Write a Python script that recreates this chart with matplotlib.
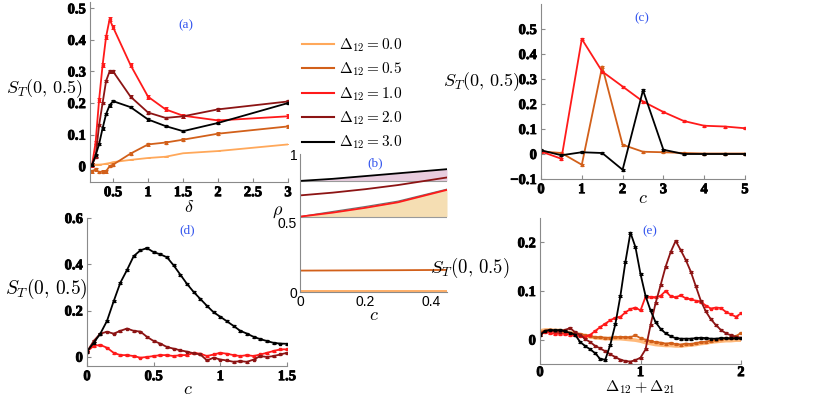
"""Five-panel S_T(0, 0.5) figure, redrawn from the reference picture."""

import matplotlib

matplotlib.use("Agg")
import matplotlib.patheffects as pe
import matplotlib.pyplot as plt
from matplotlib.lines import Line2D

plt.rcParams["mathtext.fontset"] = "cm"
plt.rcParams["font.family"] = ["Liberation Serif", "DejaVu Serif"]
# 刻度数字是粗体 Times 风格，其余文字单独指定 normal
plt.rcParams["font.weight"] = "bold"
plt.rcParams["font.size"] = 10.5

W, H = 817, 397

# colours of the five Delta_12 values
C_00 = "#FFA85A"
C_05 = "#D2601A"
C_10 = "#FF1A1A"
C_20 = "#8C1414"
C_30 = "#000000"
LEGEND_LABELS = [r"$\Delta_{12} = 0.0$", r"$\Delta_{12} = 0.5$", r"$\Delta_{12} = 1.0$",
                 r"$\Delta_{12} = 2.0$", r"$\Delta_{12} = 3.0$"]

# (a) S_T versus delta
a_delta = [0.2, 0.25, 0.3, 0.35, 0.4, 0.45, 0.5, 0.75, 1.0, 1.25, 1.5, 2.0, 3.0]
a_d00 = [0.005, 0.005, 0.005, 0.006, 0.008, 0.01, 0.013, 0.02, 0.026, 0.03, 0.041, 0.048, 0.069]
a_d05 = [-0.016, -0.01, -0.019, -0.017, -0.016, 0.0, 0.005, 0.04, 0.069, 0.075, 0.084, 0.103, 0.126]
a_d10 = [0.005, 0.075, 0.21, 0.32, 0.41, 0.465, 0.44, 0.32, 0.22, 0.18, 0.16, 0.145, 0.158]
a_d20 = [0.005, 0.03, 0.13, 0.2, 0.27, 0.3, 0.3, 0.22, 0.17, 0.153, 0.158, 0.18, 0.205]
a_d30 = [0.005, 0.034, 0.07, 0.12, 0.165, 0.193, 0.206, 0.187, 0.148, 0.127, 0.111, 0.137, 0.2]
a_xticks = [0.5, 1, 1.5, 2, 2.5, 3]
a_xticklabels = ["0.5", "1", "1.5", "2", "2.5", "3"]
a_yticks = [0, 0.1, 0.2, 0.3, 0.4, 0.5]
a_yticklabels = ["0", "0.1", "0.2", "0.3", "0.4", "0.5"]

# (b) rho versus c
b_c = [0.0, 0.1, 0.2, 0.3, 0.45]
b_d00 = [0.005, 0.005, 0.005, 0.005, 0.005]
b_d05 = [0.155, 0.156, 0.157, 0.158, 0.16]
b_d10 = [0.546, 0.575, 0.61, 0.65, 0.74]
b_d20 = [0.70, 0.72, 0.745, 0.775, 0.83]
b_d30 = [0.805, 0.82, 0.84, 0.86, 0.89]
b_bound = [0.546, 0.583, 0.619, 0.658, 0.745]
b_xticks = [0, 0.2, 0.4]
b_xticklabels = ["0", "0.2", "0.4"]
b_yticks = [0, 0.5, 1]
b_yticklabels = ["0", "0.5", "1"]

# (c) S_T versus c, coarse grid
c_c = [0, 0.5, 1, 1.5, 2, 2.5, 3, 3.5, 4, 4.5, 5]
c_d05 = [0.01, 0.004, -0.043, 0.35, 0.037, 0.009, 0.007, 0.004, 0.002, 0.002, 0.002]
c_d10 = [0.01, -0.019, 0.46, 0.33, 0.27, 0.21, 0.168, 0.132, 0.113, 0.11, 0.103]
c_d30 = [0.015, -0.005, 0.007, 0.004, -0.063, 0.255, 0.017, 0.0, 0.0, 0.0, 0.0]
c_yticks = [-0.1, 0, 0.1, 0.2, 0.3, 0.4, 0.5]
c_yticklabels = ["\u22120.1", "0", "0.1", "0.2", "0.3", "0.4", "0.5"]
c_xticks = [0, 1, 2, 3, 4, 5]
c_xticklabels = ["0", "1", "2", "3", "4", "5"]

# (d) S_T versus c, fine grid
d_c = [0, 0.05, 0.1, 0.15, 0.2, 0.25, 0.3, 0.35, 0.4, 0.45, 0.5, 0.55, 0.6, 0.65, 0.7, 0.75,
       0.8, 0.85, 0.9, 0.95, 1.0, 1.05, 1.1, 1.15, 1.2, 1.25, 1.3, 1.35, 1.4, 1.45, 1.5]
d_d10 = [0.022, 0.047, 0.051, 0.039, 0.017, 0.007, 0.007, 0.003, -0.004, -0.001, 0.003, 0.007,
         0.007, 0.003, 0.007, 0.007, 0.017, 0.013, 0.003, 0.01, 0.017, 0.013, 0.007, 0.003,
         0.007, 0.003, 0.01, 0.017, 0.025, 0.032, 0.032]
d_d20 = [0.022, 0.068, 0.1, 0.108, 0.1, 0.112, 0.122, 0.112, 0.109, 0.086, 0.068, 0.057,
         0.042, 0.035, 0.028, 0.022, 0.015, 0.01, -0.016, -0.004, -0.012, -0.016, -0.022,
         -0.019, -0.022, -0.012, 0.003, -0.001, 0.003, 0.01, 0.017]
d_d30 = [0.022, 0.06, 0.1, 0.155, 0.24, 0.32, 0.375, 0.435, 0.46, 0.47, 0.452, 0.443, 0.43,
         0.395, 0.355, 0.315, 0.28, 0.25, 0.22, 0.192, 0.173, 0.153, 0.133, 0.112, 0.1,
         0.086, 0.076, 0.068, 0.06, 0.057, 0.056]
d_xticks = [0, 0.5, 1, 1.5]
d_xticklabels = ["0", "0.5", "1", "1.5"]
d_yticks = [0, 0.2, 0.4, 0.6]
d_yticklabels = ["0", "0.2", "0.4", "0.6"]

# (e) S_T versus Delta_12 + Delta_21
e_x = [0, 0.05, 0.1, 0.15, 0.2, 0.25, 0.3, 0.35, 0.4, 0.45, 0.5, 0.55, 0.6, 0.65, 0.7, 0.75,
       0.8, 0.85, 0.9, 0.95, 1.0, 1.05, 1.1, 1.15, 1.2, 1.25, 1.3, 1.35, 1.4, 1.45, 1.5, 1.55,
       1.6, 1.65, 1.7, 1.75, 1.8, 1.85, 1.9, 1.95, 2.0]
e_d00 = [0.018, 0.02, 0.02, 0.019, 0.019, 0.017, 0.014, 0.012, 0.01, 0.008, 0.006, 0.004,
         0.003, 0.002, 0.002, 0.002, 0.002, 0.001, 0.0, -0.001, -0.003, -0.006, -0.008, -0.01,
         -0.011, -0.012, -0.012, -0.013, -0.013, -0.012, -0.011, -0.01, -0.008, -0.007,
         -0.005, -0.004, -0.003, -0.002, -0.002, -0.001, -0.001]
e_d05 = [0.016, 0.018, 0.019, 0.018, 0.017, 0.016, 0.014, 0.013, 0.012, 0.009, 0.007, 0.005,
         0.005, 0.004, 0.004, 0.005, 0.006, 0.005, 0.005, 0.009, 0.003, 0.0, -0.003, -0.005,
         -0.006, -0.008, -0.007, -0.009, -0.01, -0.008, -0.009, -0.007, -0.005, -0.004,
         -0.002, -0.001, 0.001, 0.003, 0.004, 0.007, 0.014]
e_d10 = [0.009, 0.016, 0.014, 0.012, 0.012, 0.012, 0.01, 0.009, 0.008, 0.006, 0.01, 0.018,
         0.026, 0.033, 0.04, 0.045, 0.047, 0.056, 0.063, 0.066, 0.06, 0.088, 0.088, 0.087,
         0.09, 0.1, 0.089, 0.087, 0.091, 0.085, 0.083, 0.08, 0.078, 0.07, 0.064, 0.066,
         0.065, 0.057, 0.052, 0.047, 0.054]
e_d20 = [0.012, 0.018, 0.019, 0.017, 0.016, 0.02, 0.024, 0.015, 0.01, 0.001, -0.005, -0.013,
         -0.018, -0.024, -0.03, -0.036, -0.041, -0.044, -0.045, -0.042, -0.037, -0.02, 0.03,
         0.075, 0.112, 0.15, 0.18, 0.203, 0.184, 0.164, 0.14, 0.11, 0.08, 0.058, 0.042, 0.03,
         0.02, 0.013, 0.009, 0.006, 0.004]
e_d30 = [0.009, 0.018, 0.02, 0.019, 0.02, 0.017, 0.014, 0.01, -0.005, -0.013, -0.02, -0.028,
         -0.04, -0.041, -0.01, 0.032, 0.09, 0.16, 0.22, 0.19, 0.135, 0.09, 0.06, 0.036, 0.022,
         0.013, 0.007, 0.003, 0.002, 0.002, 0.002, 0.003, 0.004, 0.003, 0.002, 0.002, 0.003,
         0.003, 0.003, 0.003, 0.003]
e_xticks = [0, 1, 2]
e_xticklabels = ["0", "1", "2"]
e_yticks = [0, 0.1, 0.2]
e_yticklabels = ["0", "0.1", "0.2"]

YLABEL = r"$S_T(0,\,0.5)$"
SPINE = "#8a8a8a"
HEAVY = [pe.withStroke(linewidth=0.6, foreground="black")]


def add_axes_px(fig, left, top, right, bottom):
    """用像素坐标（左上角原点）放一个坐标轴。"""
    return fig.add_axes([left / W, 1 - bottom / H, (right - left) / W, (bottom - top) / H])


def fig_text(fig, x, y, s, **kw):
    kw.setdefault("fontweight", "normal")
    fig.text(x / W, 1 - y / H, s, ha="center", va="center", **kw)


def style_axes(ax, xticks, xlabels, yticks, ylabels, heavy=True):
    for side in ["top", "right"]:
        ax.spines[side].set_visible(False)
    for side in ["left", "bottom"]:
        ax.spines[side].set_color(SPINE)
        ax.spines[side].set_linewidth(0.8)
    ax.tick_params(direction="in", length=3, color=SPINE, pad=3)
    ax.set_xticks(xticks)
    ax.set_xticklabels(xlabels)
    ax.set_yticks(yticks)
    ax.set_yticklabels(ylabels)
    if heavy:
        # 原图的粗体 Times 数字很黑，描一圈细边加重
        for lab in ax.get_xticklabels() + ax.get_yticklabels():
            lab.set_path_effects(HEAVY)
    ax.patch.set_alpha(0)


def draw_series(ax, x, y, color, err=0.004, ms=1.8):
    ax.errorbar(x, y, yerr=err, color=color, lw=1.3, marker="s", ms=ms, capsize=1.4,
                elinewidth=0.7, capthick=0.7)


fig = plt.figure(figsize=(W / 100, H / 100), dpi=100)

# (a)
ax_a = add_axes_px(fig, 90, 2, 288, 182)
draw_series(ax_a, a_delta, a_d00, C_00, err=0.0, ms=0)
draw_series(ax_a, a_delta, a_d05, C_05)
draw_series(ax_a, a_delta, a_d10, C_10, err=0.006)
draw_series(ax_a, a_delta, a_d20, C_20)
draw_series(ax_a, a_delta, a_d30, C_30)
ax_a.set_xlim(0.17, 3)
ax_a.set_ylim(-0.05, 0.52)
style_axes(ax_a, a_xticks, a_xticklabels, a_yticks, a_yticklabels)

# (b)
ax_b = add_axes_px(fig, 300, 154, 447, 292)
ax_b.fill_between(b_c, b_d30[0], b_d30, color="#E8CCDE", lw=0)
ax_b.fill_between(b_c, b_bound[0], b_bound, color="#F5DEB3", lw=0)
ax_b.plot([b_c[0], b_c[-1]], [b_d30[0], b_d30[0]], color="#9a9a9a", lw=0.8)
ax_b.plot([b_c[0], b_c[-1]], [b_bound[0], b_bound[0]], color="#9a9a9a", lw=0.8)
ax_b.plot(b_c, b_bound, color="#707070", lw=0.9)
ax_b.plot(b_c, b_d00, color=C_00, lw=1.3)
ax_b.plot(b_c, b_d05, color=C_05, lw=1.3)
ax_b.plot(b_c, b_d10, color=C_10, lw=1.3)
ax_b.plot(b_c, b_d20, color=C_20, lw=1.3)
ax_b.plot(b_c, b_d30, color=C_30, lw=1.3)
ax_b.set_xlim(0, 0.45)
ax_b.set_ylim(0, 1)
style_axes(ax_b, b_xticks, b_xticklabels, b_yticks, b_yticklabels, heavy=False)
ax_b.tick_params(length=0, pad=2)
for lab in ax_b.get_xticklabels() + ax_b.get_yticklabels():
    lab.set_fontfamily(["Liberation Sans"])
    lab.set_fontweight("normal")
    lab.set_fontsize(10)

# (c)
ax_c = add_axes_px(fig, 541, 4, 745, 179)
draw_series(ax_c, c_c, c_d05, C_05)
draw_series(ax_c, c_c, c_d10, C_10)
draw_series(ax_c, c_c, c_d30, C_30)
ax_c.set_xlim(0, 5)
ax_c.set_ylim(-0.1, 0.6)
style_axes(ax_c, c_xticks, c_xticklabels, c_yticks, c_yticklabels)

# (d)
ax_d = add_axes_px(fig, 87, 218, 287, 366)
draw_series(ax_d, d_c, d_d10, C_10, err=0.003)
draw_series(ax_d, d_c, d_d20, C_20, err=0.003)
draw_series(ax_d, d_c, d_d30, C_30, err=0.004)
ax_d.set_xlim(0, 1.5)
ax_d.set_ylim(-0.04, 0.6)
style_axes(ax_d, d_xticks, d_xticklabels, d_yticks, d_yticklabels)

# (e)
ax_e = add_axes_px(fig, 540, 218, 741, 364)
ax_e.plot(e_x, e_d00, color=C_00, lw=2.6, alpha=0.8)
draw_series(ax_e, e_x, e_d05, C_05, err=0.002, ms=1.5)
draw_series(ax_e, e_x, e_d10, C_10, err=0.002, ms=1.5)
draw_series(ax_e, e_x, e_d20, C_20, err=0.002, ms=1.5)
draw_series(ax_e, e_x, e_d30, C_30, err=0.002, ms=1.5)
ax_e.set_xlim(0, 2)
ax_e.set_ylim(-0.05, 0.25)
style_axes(ax_e, e_xticks, e_xticklabels, e_yticks, e_yticklabels)
ax_e.tick_params(axis="x", pad=1.5)

# axis labels and panel tags
fig_text(fig, 44, 89, YLABEL, fontsize=13)
fig_text(fig, 481, 82, YLABEL, fontsize=13)
fig_text(fig, 46, 289, YLABEL, fontsize=14)
fig_text(fig, 470, 268, YLABEL, fontsize=13.5)
fig_text(fig, 189, 208, r"$\delta$", fontsize=13)
fig_text(fig, 643, 198, r"$c$", fontsize=13)
fig_text(fig, 188, 390, r"$c$", fontsize=13)
fig_text(fig, 374, 316, r"$c$", fontsize=13)
fig_text(fig, 278, 212, r"$\rho$", fontsize=13)
fig_text(fig, 640, 387, r"$\Delta_{12} + \Delta_{21}$", fontsize=11.5)
for x, y, tag in [(186, 25, "(a)"), (375, 163, "(b)"), (642, 18, "(c)"),
                  (187, 230, "(d)"), (650, 231, "(e)")]:
    fig_text(fig, x, y, tag, fontsize=9.5, color="#3355EE")

# legend
handles = [Line2D([], [], color=c, lw=1.5) for c in [C_00, C_05, C_10, C_20, C_30]]
fig.legend(handles, LEGEND_LABELS, loc="upper left", bbox_to_anchor=(302 / W, 1 - 36 / H),
           frameon=False, fontsize=11, handlelength=2.1, handletextpad=0.3,
           labelspacing=0.45, borderaxespad=0, borderpad=0)

fig.savefig("out.png", dpi=100)
